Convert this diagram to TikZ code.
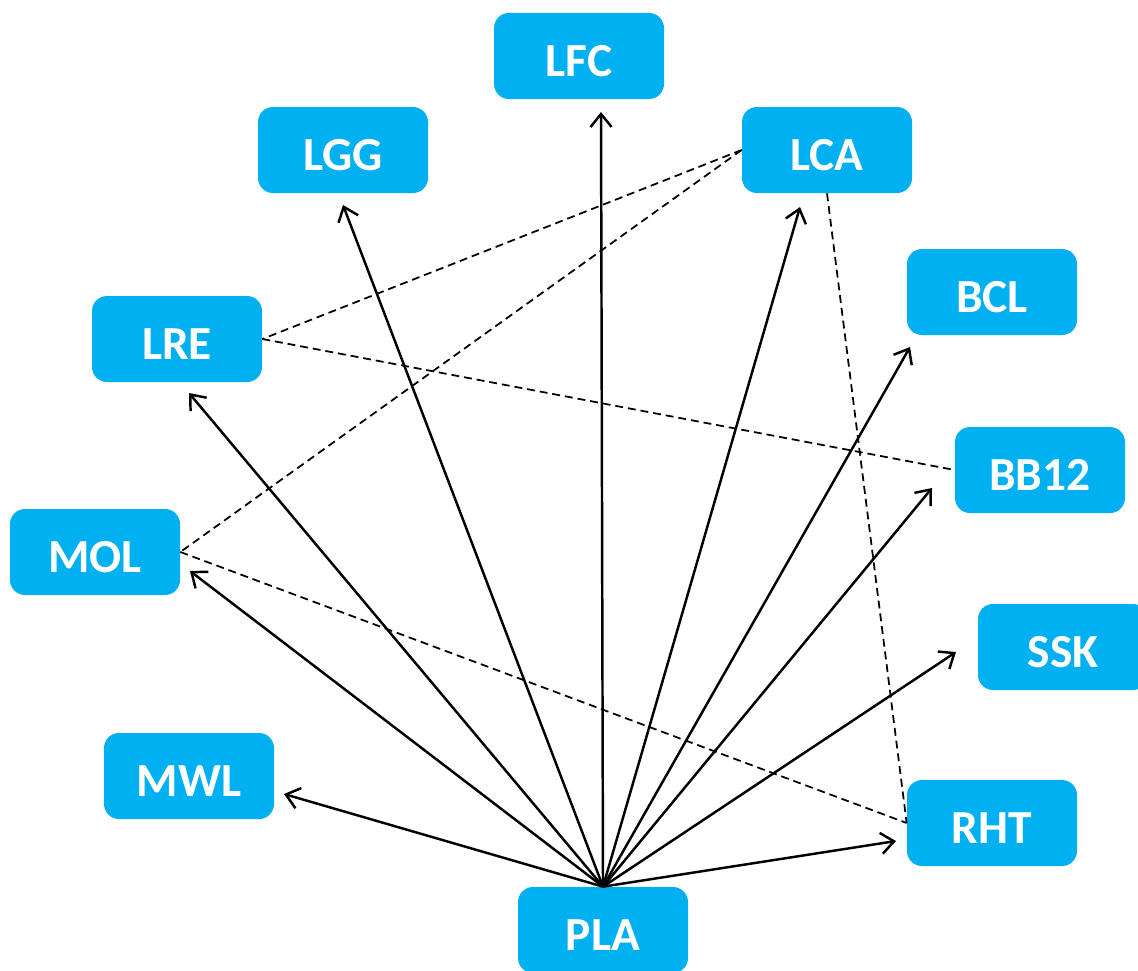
\documentclass[tikz,border=0pt]{standalone}
\usepackage{fontspec}
\setmainfont{Carlito}
\usepackage{xcolor}
\usepackage{tikz}
\usetikzlibrary{arrows.meta}

\definecolor{boxcyan}{HTML}{00B0F0}

\begin{document}
\begin{tikzpicture}[
    every node/.style={font=\fontsize{27}{32}\selectfont\bfseries},
    tag/.style={rectangle,fill=boxcyan,text=white,rounded corners=0.3cm,minimum width=3.4cm,minimum height=1.72cm,inner sep=0pt,text height=0.81cm,text depth=0pt},
    arr/.style={line width=1.4pt,black,-{Straight Barb[length=2.6mm,width=4.2mm,line width=1.4pt]}},
    link/.style={line width=1pt,black,dash pattern=on 4.5pt off 2.8pt},
]
\clip (0,0) rectangle (22.76,-19.4);
\useasboundingbox (0,0) rectangle (22.76,-19.4);
\node[tag] (LFC)  at (11.58,-1.12)  {LFC};
\node[tag] (LGG)  at (6.86,-3.00)   {LGG};
\node[tag] (LCA)  at (16.54,-3.00)  {LCA};
\node[tag] (LRE)  at (3.54,-6.78)   {LRE};
\node[tag] (BCL)  at (19.84,-5.84)  {BCL};
\node[tag] (BB12) at (20.80,-9.40)  {BB12};
\node[tag] (MOL)  at (1.90,-11.04)  {MOL};
\node[tag] (SSK)  at (21.26,-12.94) {SSK};
\node[tag] (MWL)  at (3.78,-15.52)  {MWL};
\node[tag] (RHT)  at (19.84,-16.46) {RHT};
\node[tag] (PLA)  at (12.06,-18.60) {PLA};
% arrows from PLA, tips stop short of the boxes
\foreach \n/\x/\y in {LFC/12.02/-2.24, LGG/6.86/-4.10, LCA/16.00/-4.14, LRE/3.78/-7.86,
                      BCL/18.20/-6.94, BB12/18.64/-9.76, MOL/3.80/-11.42, SSK/19.12/-13.04,
                      MWL/5.68/-15.88, RHT/17.92/-16.82}{
  \coordinate (t\n) at (\x,\y);
  \draw[arr] (PLA.north) -- (t\n);
}
% dashed links
\draw[link] (LCA.west) -- (LRE.east);
\draw[link] (LCA.west) -- (MOL.east);
\draw[link] (LCA.south) -- (RHT.west);
\draw[link] (LRE.east) -- (BB12.west);
\draw[link] (MOL.east) -- (RHT.west);
\end{tikzpicture}
\end{document}
